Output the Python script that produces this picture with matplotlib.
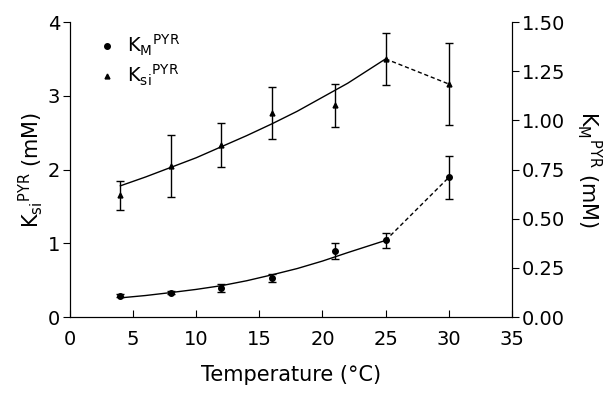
import matplotlib
matplotlib.use("Agg")
import matplotlib.pyplot as plt

plt.rcParams['font.family'] = ['DejaVu Sans']
plt.rcParams['mathtext.default'] = 'regular'

temp = [4, 8, 12, 16, 21, 25, 30]

# Ksi (left axis, mM)
ksi     = [1.65, 2.05, 2.33, 2.77, 2.87, 3.50, 3.16]
ksi_err = [0.20, 0.42, 0.30, 0.35, 0.29, 0.35, 0.55]

# KM (right axis, mM)
km     = [0.110, 0.125, 0.150, 0.200, 0.335, 0.390, 0.710]
km_err = [0.006, 0.006, 0.020, 0.020, 0.040, 0.040, 0.110]

# fitted curves (4..25 C)
fit_t   = [4, 6, 8, 10, 12, 14, 16, 18, 20, 22, 25]
ksi_fit = [1.78, 1.90, 2.03, 2.16, 2.31, 2.46, 2.62, 2.79, 2.98, 3.17, 3.50]
km_fit  = [0.098, 0.110, 0.125, 0.141, 0.160, 0.185, 0.215, 0.247, 0.285, 0.328, 0.390]

fig = plt.figure(figsize=(6.13, 3.93), dpi=100)
ax = fig.add_axes([0.114, 0.193, 0.721, 0.751])
ax2 = ax.twinx()

ax.errorbar(temp, ksi, yerr=ksi_err, fmt='^', color='black', ms=3.5,
            capsize=3, elinewidth=1, capthick=1)
ax.plot(fit_t, ksi_fit, color='black', lw=1)
ax.plot(temp[-2:], ksi[-2:], color='black', lw=1, ls='--', dashes=(3, 2))

ax2.errorbar(temp, km, yerr=km_err, fmt='o', color='black', ms=4,
             capsize=3, elinewidth=1, capthick=1)
ax2.plot(fit_t, km_fit, color='black', lw=1)
ax2.plot(temp[-2:], km[-2:], color='black', lw=1, ls='--', dashes=(3, 2))

# legend handles
h1, = ax.plot([], [], 'o', color='black', ms=4)
h2, = ax.plot([], [], '^', color='black', ms=3.5)
ax.legend([h1, h2], [r'K$_M$$^{PYR}$', r'K$_{si}$$^{PYR}$'], loc='upper left',
          frameon=False, fontsize=14, handletextpad=0.5, borderaxespad=0.0,
          labelspacing=0.25, handlelength=1.0, bbox_to_anchor=(0.045, 0.99))

ax.set_xlim(0, 35)
ax.set_ylim(0, 4)
ax2.set_ylim(0, 1.5)
ax.set_xticks(range(0, 36, 5))
ax.set_yticks([0, 1, 2, 3, 4])
ax2.set_yticks([0, 0.25, 0.5, 0.75, 1.0, 1.25, 1.5])
ax2.set_yticklabels(['0.00', '0.25', '0.50', '0.75', '1.00', '1.25', '1.50'])

for a in (ax, ax2):
    a.spines['top'].set_visible(False)
ax.tick_params(axis='x', direction='in', length=5, labelsize=14, pad=9)
ax.tick_params(axis='y', direction='out', length=5, labelsize=14, pad=2)
ax2.tick_params(axis='y', direction='out', length=5, labelsize=14, pad=2)

ax.set_xlabel('Temperature (°C)', fontsize=15, labelpad=12)
ax.set_ylabel(r'K$_{si}$$^{PYR}$ (mM)', fontsize=15, labelpad=2)
ax2.set_ylabel(r'K$_M$$^{PYR}$ (mM)', fontsize=15, rotation=270, labelpad=28)

fig.savefig('out.png', dpi=100)
